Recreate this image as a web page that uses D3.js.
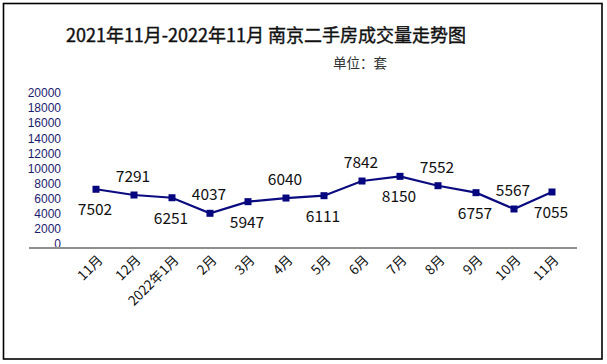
<!DOCTYPE html>
<html><head><meta charset="utf-8">
<script src="https://cdn.jsdelivr.net/npm/d3@7"></script>
<style>
html,body{margin:0;padding:0;background:#fff;}
svg{display:block;font-family:"Noto Sans CJK SC","Liberation Sans",sans-serif;}
</style></head>
<body>
<svg id="chart" width="607" height="364"></svg>
<script>
const titleText = "2021年11月-2022年11月 南京二手房成交量走势图";
const unitText = "单位：套";
const categories = ["11月","12月","2022年1月","2月","3月","4月","5月","6月","7月","8月","9月","10月","11月"];
// marker heights
const values = [7240, 6480, 6120, 4060, 5600, 6080, 6390, 8330, 8950, 7710, 6790, 4630, 6880];
// data label texts as printed on the picture
const dataLabels = ["7502","7291","6251","4037","5947","6040","6111","7842","8150","7552","6757","5567","7055"];
const yTicks = [0,2000,4000,6000,8000,10000,12000,14000,16000,18000,20000];

const svg = d3.select("#chart");

// frame
svg.append("rect").attr("x",3.5).attr("y",3.5).attr("width",598.5).attr("height",355.5)
  .attr("fill","#fff").attr("stroke","#000").attr("stroke-width",1.6);

// title
svg.append("text").attr("x",266).attr("y",42).attr("text-anchor","middle")
  .attr("font-size",18).attr("fill","#111").attr("stroke","#111").attr("stroke-width",0.4)
  .text(titleText);
svg.append("text").attr("x",333).attr("y",68).attr("font-size",13.5)
  .attr("fill","#333").text(unitText);

const x = d3.scalePoint().domain(d3.range(categories.length)).range([96,552]);
const y = d3.scaleLinear().domain([0,20000]).range([244,92.8]);

// y axis labels
const yAxis = d3.axisLeft(y).tickValues(yTicks).tickSize(0).tickPadding(0).tickFormat(d3.format("d"));
const yg = svg.append("g").attr("transform","translate(61,0)").call(yAxis);
yg.select(".domain").remove();
yg.selectAll("text").attr("font-size",12).attr("fill","#1c1c6e")
  .attr("font-family","Liberation Sans, Arial, sans-serif");

// x axis baseline
svg.append("line").attr("x1",29).attr("x2",577).attr("y1",248).attr("y2",248)
  .attr("stroke","#8f8f8f").attr("stroke-width",2.2);

// x labels
const xAxis = d3.axisBottom(x).tickSize(0).tickFormat(i => categories[i]);
const xg = svg.append("g").attr("transform","translate(0,248)").call(xAxis);
xg.select(".domain").remove();
xg.selectAll(".tick text")
  .attr("font-size",13.5).attr("fill","#111")
  .attr("font-family","Noto Sans CJK SC, Liberation Sans, sans-serif")
  .attr("text-anchor","end").attr("y",0).attr("dy",0)
  .attr("transform","translate(7,13) rotate(-45)");

// line
const line = d3.line().x((d,i)=>x(i)).y(d=>y(d));
svg.append("path").datum(values).attr("d",line).attr("fill","none")
  .attr("stroke","#0b0b80").attr("stroke-width",2.2);

// markers
svg.selectAll("rect.m").data(values).enter().append("rect").attr("class","m")
  .attr("x",(d,i)=>x(i)-3.5).attr("y",d=>y(d)-3.5).attr("width",7).attr("height",7)
  .attr("fill","#06067e");

// data labels (alternating below / above)
svg.selectAll("text.dl").data(values).enter().append("text").attr("class","dl")
  .attr("x",(d,i)=>x(i)-1).attr("y",(d,i)=> i%2===0 ? y(d)+26 : y(d)-13)
  .attr("text-anchor","middle").attr("font-size",15.5).attr("fill","#111")
  .text((d,i)=>dataLabels[i]);
</script>
</body></html>
